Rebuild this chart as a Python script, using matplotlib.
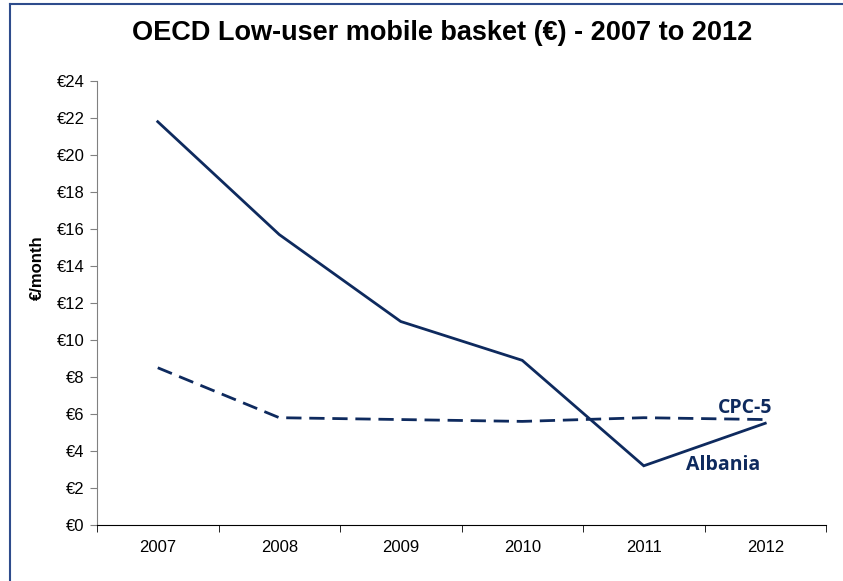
import numpy as np
import matplotlib.pyplot as plt
from matplotlib.lines import Line2D

years = ['2007', '2008', '2009', '2010', '2011', '2012']
albania = [21.8, 15.7, 11.0, 8.9, 3.2, 5.5]
cpc5 = [8.5, 5.8, 5.7, 5.6, 5.8, 5.7]
yticks = np.arange(0, 25, 2)

navy = '#0e2a5e'

fig = plt.figure(figsize=(8.43, 5.81), dpi=100)
ax = fig.add_axes([97 / 843, 1 - 525 / 581, 729 / 843, 444 / 581])

x = np.arange(len(years))
ax.plot(x, albania, color=navy, lw=2, solid_joinstyle='miter')
ax.plot(x, cpc5, color=navy, lw=2, ls=(0, (5.5, 2.8)))

ax.set_xlim(-0.5, len(years) - 0.5)
ax.set_ylim(0, 24)
ax.set_yticks(yticks)
ax.set_yticklabels(['€%d' % v for v in yticks], family='Liberation Sans', fontsize=12)
ax.set_xticks(x)
ax.set_xticklabels(years, family='Liberation Sans', fontsize=12)
ax.set_xticks(np.arange(-0.5, len(years)), minor=True)
ax.tick_params(axis='x', which='major', length=0, pad=11)
ax.tick_params(axis='x', which='minor', length=5, direction='out', color='black')
ax.tick_params(axis='y', length=5, direction='out', color='#808080', pad=4)

for s in ['top', 'right']:
    ax.spines[s].set_visible(False)
ax.spines['left'].set_color('#808080')
ax.spines['bottom'].set_color('black')

ax.set_ylabel('€/month', family='Liberation Sans', fontsize=12, fontweight='bold')
ax.yaxis.set_label_coords(-52 / 729, (525 - 268) / 444)

ax.text(4.61, 6.05, 'CPC-5', color=navy, fontsize=14, fontweight='bold', family='Open Sans', va='baseline')
ax.text(4.35, 2.95, 'Albania', color=navy, fontsize=14, fontweight='bold', family='Open Sans', va='baseline')

fig.text(0.525, 1 - 33 / 581, 'OECD Low-user mobile basket (€) - 2007 to 2012',
         ha='center', va='center', family='Liberation Sans', fontsize=19.5, fontweight='bold')

# outer frame lines
fig.add_artist(Line2D([10 / 843, 10 / 843], [0, 1 - 4 / 581], transform=fig.transFigure, color='#2e4c8c', lw=1.5))
fig.add_artist(Line2D([10 / 843, 1], [1 - 4 / 581, 1 - 4 / 581], transform=fig.transFigure, color='#2e4c8c', lw=1.5))

fig.savefig('out.png', dpi=100)
